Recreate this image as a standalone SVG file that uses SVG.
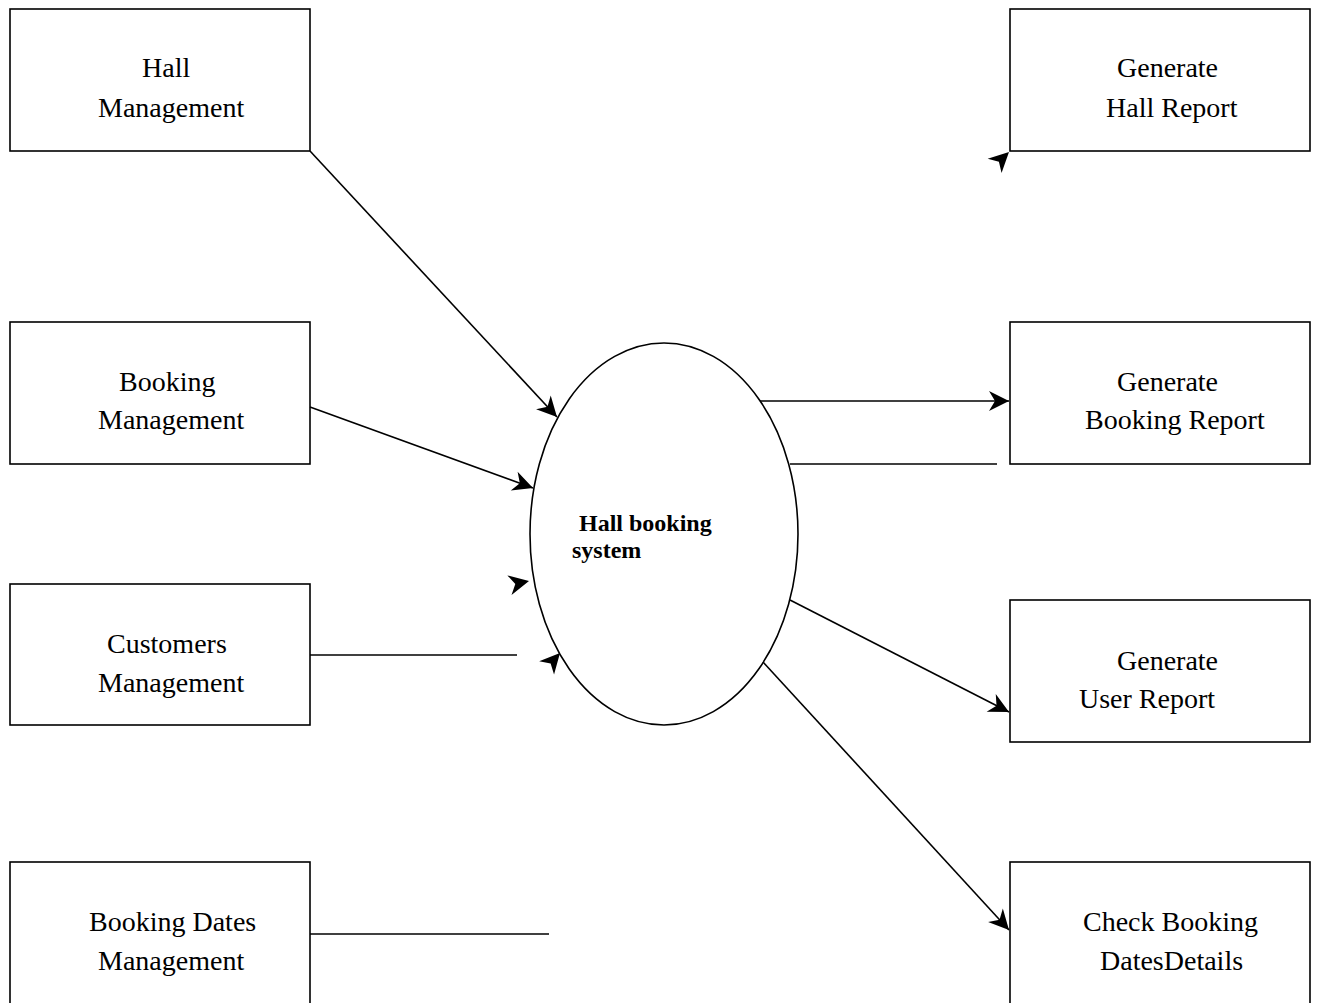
<svg xmlns="http://www.w3.org/2000/svg" xmlns:xlink="http://www.w3.org/1999/xlink" width="1318" height="1003" viewBox="0 0 1318 1003">
<style>
.box{fill:#fff;stroke:#000;stroke-width:1.6}
.lbl{font-family:"Liberation Serif","Times New Roman",serif;font-size:28px;fill:#000}
.blbl{font-family:"Liberation Serif","Times New Roman",serif;font-size:24px;font-weight:bold;fill:#000}
.ln{stroke:#000;stroke-width:1.6;fill:none}
.arr{marker-end:url(#ah)}
</style>
<defs>
<marker id="ah" markerUnits="userSpaceOnUse" viewBox="-21 -11 22 22" refX="0" refY="0" markerWidth="22" markerHeight="22" orient="auto">
<path d="M0,0 L-20,-10 L-14,0 L-20,10 Z" fill="#000"/>
</marker>
<path id="head" d="M0,0 L-20,-10 L-14,0 L-20,10 Z" fill="#000"/>
</defs>
<rect width="1318" height="1003" fill="#fff"/>
<g id="n-hall-mgmt"><rect class="box" x="10" y="9" width="300" height="142"/><text class="lbl" x="142" y="77">Hall</text><text class="lbl" x="98" y="117">Management</text></g>
<g id="n-booking-mgmt"><rect class="box" x="10" y="322" width="300" height="142"/><text class="lbl" x="119" y="391">Booking</text><text class="lbl" x="98" y="429">Management</text></g>
<g id="n-customers-mgmt"><rect class="box" x="10" y="584" width="300" height="141"/><text class="lbl" x="107" y="653">Customers</text><text class="lbl" x="98" y="692">Management</text></g>
<g id="n-dates-mgmt"><rect class="box" x="10" y="862" width="300" height="145"/><text class="lbl" x="89" y="931">Booking Dates</text><text class="lbl" x="98" y="970">Management</text></g>
<g id="n-hall-report"><rect class="box" x="1010" y="9" width="300" height="142"/><text class="lbl" x="1117" y="77">Generate</text><text class="lbl" x="1106" y="117">Hall Report</text></g>
<g id="n-booking-report"><rect class="box" x="1010" y="322" width="300" height="142"/><text class="lbl" x="1117" y="391">Generate</text><text class="lbl" x="1085" y="429">Booking Report</text></g>
<g id="n-user-report"><rect class="box" x="1010" y="600" width="300" height="142"/><text class="lbl" x="1117" y="670">Generate</text><text class="lbl" x="1079" y="708">User Report</text></g>
<g id="n-check-dates"><rect class="box" x="1010" y="862" width="300" height="145"/><text class="lbl" x="1083" y="931">Check Booking</text><text class="lbl" x="1100" y="970">DatesDetails</text></g>
<g id="n-system"><ellipse class="box" cx="664" cy="534" rx="134" ry="191"/><text class="blbl" x="579" y="531">Hall booking</text><text class="blbl" x="572" y="558">system</text></g>
<g id="connectors">
<line class="ln arr" x1="310" y1="151" x2="557" y2="417"/>
<line class="ln arr" x1="310" y1="407" x2="533" y2="488"/>
<line class="ln" x1="310" y1="655" x2="517" y2="655"/>
<line class="ln" x1="310" y1="934" x2="549" y2="934"/>
<line class="ln arr" x1="760" y1="401" x2="1009" y2="401"/>
<line class="ln" x1="790" y1="464" x2="997" y2="464"/>
<line class="ln arr" x1="790" y1="600" x2="1009" y2="712"/>
<line class="ln arr" x1="763" y1="662" x2="1009" y2="930"/>
<use xlink:href="#head" transform="translate(529,581) rotate(-12)"/>
<use xlink:href="#head" transform="translate(560,653) rotate(-48)"/>
<use xlink:href="#head" transform="translate(1009,152) rotate(-44)"/>
</g>
</svg>
